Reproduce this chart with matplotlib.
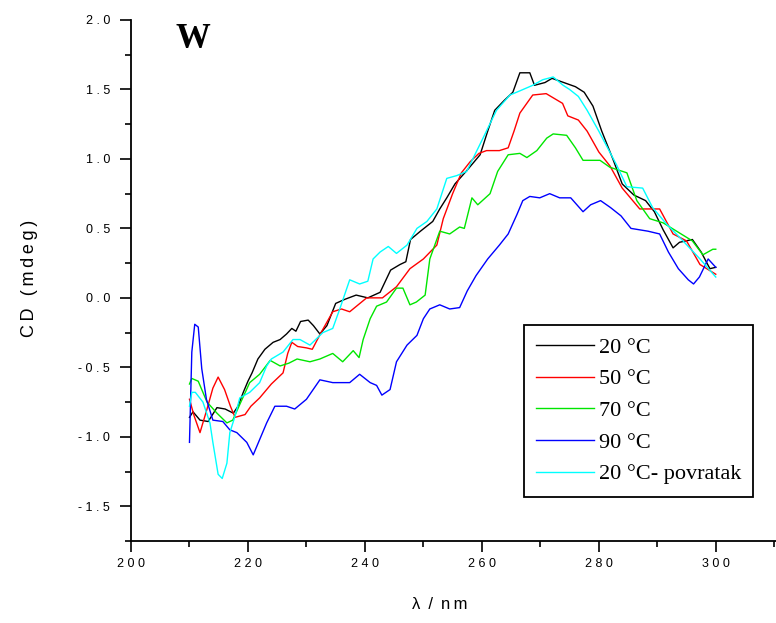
import matplotlib.pyplot as plt
from matplotlib.ticker import MultipleLocator, FuncFormatter

# CD spectra, W sample
wl_20 = [210.0, 210.6, 211.8, 213.2, 214.7, 216.1, 217.5, 218.3, 219.2, 220.0, 220.7, 221.7, 222.9,
         224.3, 225.5, 226.6, 227.5, 228.2, 229.0, 230.3, 231.2, 232.3, 233.5, 235.0, 236.6, 238.5,
         240.5, 242.6, 244.4, 246.0, 247.0, 247.8, 249.5, 251.6, 252.8, 254.0, 255.4, 257.5, 259.7,
         261.0, 262.2, 263.8, 265.3, 266.5, 268.2, 269.0, 270.8, 272.0, 274.0, 276.0, 277.5, 279.0,
         280.5, 282.4, 284.0, 286.0, 288.0, 289.5, 291.0, 292.7, 293.8, 296.0, 297.5, 299.0, 300.0]
cd_20 = [-0.86, -0.82, -0.88, -0.89, -0.79, -0.80, -0.83, -0.78, -0.68, -0.60, -0.54, -0.44, -0.37,
         -0.32, -0.30, -0.26, -0.22, -0.24, -0.17, -0.16, -0.20, -0.26, -0.20, -0.04, -0.01, 0.02,
         0.00, 0.04, 0.20, 0.24, 0.26, 0.42, 0.48, 0.55, 0.64, 0.72, 0.82, 0.92, 1.03,
         1.20, 1.35, 1.42, 1.48, 1.62, 1.62, 1.53, 1.55, 1.58, 1.55, 1.52, 1.48, 1.38,
         1.20, 1.00, 0.82, 0.74, 0.70, 0.62, 0.49, 0.36, 0.40, 0.42, 0.33, 0.21, 0.22]

wl_50 = [210.0, 210.8, 211.8, 213.0, 214.0, 214.9, 216.0, 217.0, 217.8, 219.5, 220.5, 222.0, 224.0,
         226.0, 226.8, 227.5, 228.5, 230.0, 231.0, 232.5, 234.5, 236.0, 237.4, 240.3, 243.0, 245.4,
         247.7, 250.0, 252.3, 253.4, 255.0, 256.5, 258.0, 259.5, 260.8, 263.0, 264.5, 265.5, 266.5,
         268.7, 271.0, 273.8, 274.7, 276.5, 278.0, 280.0, 281.9, 284.0, 287.0, 290.4, 292.7, 295.0,
         297.3, 300.0]
cd_50 = [-0.73, -0.85, -0.97, -0.80, -0.65, -0.57, -0.66, -0.78, -0.86, -0.84, -0.78, -0.72, -0.62,
         -0.54, -0.40, -0.32, -0.35, -0.36, -0.37, -0.25, -0.10, -0.08, -0.10, 0.00, 0.00, 0.08,
         0.21, 0.28, 0.38, 0.57, 0.75, 0.90, 0.98, 1.04, 1.06, 1.06, 1.08, 1.20, 1.33,
         1.46, 1.47, 1.40, 1.31, 1.28, 1.20, 1.05, 0.95, 0.79, 0.64, 0.64, 0.46, 0.41,
         0.24, 0.17]

wl_70 = [210.0, 210.4, 211.5, 213.0, 214.7, 216.4, 217.4, 219.0, 220.3, 222.0, 223.8, 225.5, 227.0,
         228.4, 230.6, 232.3, 234.5, 236.2, 238.0, 239.0, 239.7, 240.9, 242.0, 243.7, 245.4, 246.5,
         247.7, 248.8, 250.3, 251.1, 252.8, 254.5, 256.2, 257.0, 258.3, 259.3, 261.4, 262.7, 264.5,
         266.5, 267.7, 269.4, 271.1, 272.2, 274.5, 276.0, 277.3, 280.2, 281.9, 284.8, 286.5, 288.7,
         291.0, 293.3, 296.0, 297.8, 299.5, 300.0]
cd_70 = [-0.62, -0.58, -0.60, -0.75, -0.83, -0.90, -0.88, -0.73, -0.61, -0.55, -0.45, -0.49, -0.47,
         -0.44, -0.46, -0.44, -0.40, -0.46, -0.38, -0.43, -0.30, -0.15, -0.06, -0.03, 0.07, 0.07,
         -0.05, -0.03, 0.02, 0.28, 0.48, 0.46, 0.51, 0.50, 0.72, 0.67, 0.75, 0.91, 1.03,
         1.04, 1.01, 1.06, 1.15, 1.18, 1.17, 1.08, 0.99, 0.99, 0.94, 0.90, 0.70, 0.57,
         0.54, 0.48, 0.41, 0.31, 0.35, 0.35]

wl_90 = [210.0, 210.4, 210.9, 211.5, 212.1, 212.9, 214.0, 215.7, 216.9, 218.1, 219.8, 220.9, 222.0,
         223.2, 224.6, 226.6, 228.0, 230.0, 232.3, 234.5, 237.4, 239.1, 240.9, 242.0, 242.9, 244.3,
         245.4, 247.2, 248.9, 250.0, 251.1, 252.8, 254.5, 256.2, 257.5, 259.0, 261.0, 263.0, 264.5,
         266.0, 267.0, 268.2, 269.9, 271.6, 273.3, 275.2, 277.3, 278.6, 280.3, 282.0, 283.8, 285.5,
         288.4, 290.4, 291.9, 293.6, 295.3, 296.2, 297.2, 298.7, 300.0]
cd_90 = [-1.04, -0.39, -0.19, -0.21, -0.51, -0.73, -0.88, -0.89, -0.95, -0.97, -1.04, -1.13, -1.02,
         -0.90, -0.78, -0.78, -0.80, -0.73, -0.59, -0.61, -0.61, -0.55, -0.61, -0.63, -0.70, -0.66,
         -0.46, -0.34, -0.27, -0.15, -0.08, -0.05, -0.08, -0.07, 0.05, 0.16, 0.28, 0.38, 0.46,
         0.60, 0.70, 0.73, 0.72, 0.75, 0.72, 0.72, 0.62, 0.67, 0.70, 0.65, 0.59, 0.50,
         0.48, 0.46, 0.33, 0.21, 0.13, 0.10, 0.15, 0.28, 0.22]

wl_ret = [210.0, 210.4, 211.0, 212.3, 213.5, 214.0, 214.9, 215.6, 216.4, 216.9, 217.8, 218.6, 220.3,
          222.0, 223.2, 224.0, 226.0, 227.7, 228.9, 230.6, 232.8, 234.5, 235.7, 237.4, 239.1, 240.5,
          241.4, 242.6, 244.0, 245.4, 247.2, 248.9, 250.6, 252.3, 254.0, 255.7, 257.4, 260.2, 262.5,
          264.8, 266.5, 268.7, 270.4, 272.2, 273.9, 275.0, 276.5, 278.0, 280.0, 281.5, 283.0, 284.8,
          287.5, 289.2, 291.6, 294.4, 297.3, 300.0]
cd_ret = [-0.78, -0.68, -0.68, -0.75, -0.90, -1.04, -1.27, -1.30, -1.19, -0.97, -0.85, -0.72, -0.68,
          -0.61, -0.49, -0.44, -0.39, -0.30, -0.30, -0.34, -0.25, -0.22, -0.08, 0.13, 0.10, 0.12,
          0.28, 0.33, 0.37, 0.32, 0.38, 0.50, 0.55, 0.64, 0.86, 0.88, 0.91, 1.15, 1.35,
          1.46, 1.49, 1.53, 1.57, 1.59, 1.53, 1.50, 1.45, 1.35, 1.20, 1.08, 0.96, 0.80,
          0.79, 0.65, 0.53, 0.41, 0.28, 0.15]

labels = ['20 °C', '50 °C', '70 °C', '90 °C', '20 °C- povratak']
colors = ['#000000', '#FF0000', '#00E600', '#0000FF', '#00FFFF']

sans = ['Liberation Sans', 'DejaVu Sans']

fig = plt.figure(figsize=(7.76, 6.23), dpi=100)
ax = fig.add_axes([131 / 776, 82 / 623, 645 / 776, 521 / 623])

series = [(wl_20, cd_20), (wl_50, cd_50), (wl_70, cd_70), (wl_90, cd_90), (wl_ret, cd_ret)]
for (x, y), lab, c in zip(series, labels, colors):
    ax.plot(x, y, color=c, lw=1.0, label=lab)

ax.set_xlim(200, 310.3)
ax.set_ylim(-1.75, 2.0)
ax.spines['top'].set_visible(False)
ax.spines['right'].set_visible(False)
for s in ('left', 'bottom'):
    ax.spines[s].set_linewidth(1.3)

ax.xaxis.set_major_locator(MultipleLocator(20))
ax.xaxis.set_minor_locator(MultipleLocator(10))
ax.yaxis.set_major_locator(MultipleLocator(0.5))
ax.yaxis.set_minor_locator(MultipleLocator(0.25))
ax.tick_params(which='major', direction='out', length=8, width=1.2, labelsize=9)
ax.tick_params(axis='x', which='major', pad=4)
ax.tick_params(axis='y', which='major', pad=7)
ax.tick_params(which='minor', direction='out', length=4, width=1.2)

# spaced-out digits like the original Origin labels
ax.xaxis.set_major_formatter(FuncFormatter(lambda v, p: ' '.join('%d' % v) if 200 <= v <= 300 else ''))
ax.yaxis.set_major_formatter(FuncFormatter(lambda v, p: ' '.join('%.1f' % v).replace('-  ', '-')))
for t in ax.get_xticklabels() + ax.get_yticklabels():
    t.set_fontfamily(sans)

ax.set_xlabel('λ\u2009 /\u2009 n\u2009m', fontsize=12, family=sans)
ax.xaxis.set_label_coords((440 - 131) / 645, -(597 - 541) / 521)
ax.set_ylabel('\u2009'.join('CD (mdeg)'), fontsize=13, family=sans)
ax.yaxis.set_label_coords((38 - 131) / 645, (541 - 278) / 521)

fig.text(176 / 776, 1 - 48 / 623, 'W', fontsize=25, fontweight='bold',
         family='Liberation Serif', va='baseline')

leg = ax.legend(loc='upper left', bbox_to_anchor=(524 / 776, 1 - 325 / 623),
                bbox_transform=fig.transFigure, borderaxespad=0, fancybox=False,
                edgecolor='black', framealpha=1, handlelength=2.6, handletextpad=0.22,
                labelspacing=0.5, borderpad=0.55,
                prop={'family': 'Liberation Serif', 'size': 16})
leg.get_frame().set_linewidth(1.3)

fig.savefig('out.png', dpi=100)
